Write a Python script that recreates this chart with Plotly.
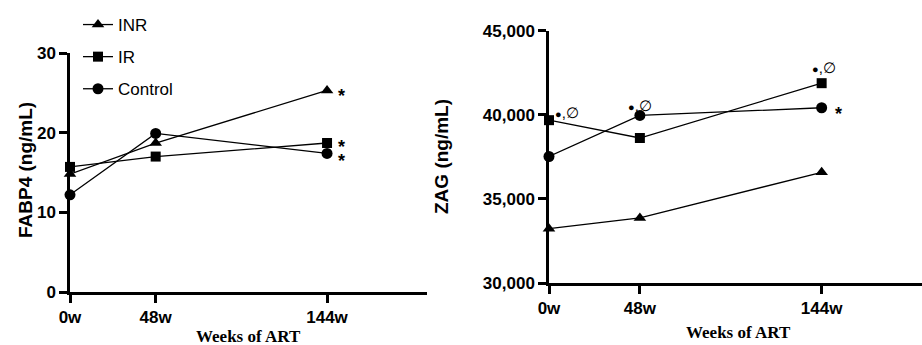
import plotly.graph_objects as go

weeks = [0, 48, 144]
week_labels = ["0w", "48w", "144w"]

fabp4_inr = [14.8, 18.7, 25.3]
fabp4_ir = [15.7, 17.0, 18.7]
fabp4_ctrl = [12.2, 19.9, 17.4]

zag_inr = [33230, 33870, 36580]
zag_ir = [39680, 38620, 41880]
zag_ctrl = [37520, 39960, 40420]

series_names = ["INR", "IR", "Control"]
symbols = ["triangle-up", "square", "circle"]
sizes = [11, 10, 11]

W, H = 922, 345
fig = go.Figure()

left_data = [fabp4_inr, fabp4_ir, fabp4_ctrl]
right_data = [zag_inr, zag_ir, zag_ctrl]

for i, name in enumerate(series_names):
    fig.add_trace(go.Scatter(
        x=weeks, y=left_data[i], mode="lines+markers", name=name,
        legendgroup=name, xaxis="x", yaxis="y",
        line=dict(color="black", width=1.3),
        marker=dict(symbol=symbols[i], size=sizes[i], color="black"),
        cliponaxis=False,
    ))
for i, name in enumerate(series_names):
    fig.add_trace(go.Scatter(
        x=weeks, y=right_data[i], mode="lines+markers", name=name,
        legendgroup=name, showlegend=False, xaxis="x2", yaxis="y2",
        line=dict(color="black", width=1.3),
        marker=dict(symbol=symbols[i], size=sizes[i], color="black"),
        cliponaxis=False,
    ))

tickfont = dict(family="Liberation Sans, Arial", size=17, color="black", weight="bold")
axis_common = dict(showgrid=False, zeroline=False, showline=True, linecolor="black",
                   linewidth=2.5, ticks="outside", ticklen=8, tickwidth=2.5,
                   tickcolor="black", tickfont=tickfont, automargin=False)

fig.update_layout(
    width=W, height=H,
    margin=dict(l=0, r=0, t=0, b=0, pad=0, autoexpand=False),
    paper_bgcolor="white", plot_bgcolor="white",
    showlegend=True,
    legend=dict(x=78 / W, y=1 - 7 / H, xanchor="left", yanchor="top",
                font=dict(family="Liberation Sans, Arial", size=17, color="black"),
                traceorder="grouped", tracegroupgap=7, bgcolor="rgba(0,0,0,0)"),
    xaxis=dict(domain=[70 / W, 427 / W], range=[0, 200], anchor="y",
               tickvals=weeks, ticktext=week_labels, **axis_common),
    yaxis=dict(domain=[1 - 292 / H, 1 - 53 / H], range=[0, 30], anchor="x",
               tickvals=[0, 10, 20, 30], **axis_common),
    xaxis2=dict(domain=[549 / W, 1.0], range=[0, 197], anchor="y2",
                tickvals=weeks, ticktext=week_labels, **axis_common),
    yaxis2=dict(domain=[1 - 283 / H, 1 - 30.7 / H], range=[30000, 45000], anchor="x2",
                tickvals=[30000, 35000, 40000, 45000], tickformat=",", **axis_common),
)

title_font = dict(family="Liberation Sans, Arial", size=19, color="black", weight="bold")
xtitle_font = dict(family="Liberation Serif, Times New Roman", size=17, color="black", weight="bold")

annotations = [
    dict(text="FABP4 (ng/mL)", x=25 / W, y=1 - 170 / H, xref="paper", yref="paper",
         textangle=-90, showarrow=False, font=title_font, xanchor="center", yanchor="middle"),
    dict(text="ZAG (ng/mL)", x=441 / W, y=1 - 157 / H, xref="paper", yref="paper",
         textangle=-90, showarrow=False, font=title_font, xanchor="center", yanchor="middle"),
    dict(text="Weeks of ART", x=248 / W, y=1 - 336 / H, xref="paper", yref="paper",
         showarrow=False, font=xtitle_font, xanchor="center", yanchor="middle"),
    dict(text="Weeks of ART", x=738 / W, y=1 - 332 / H, xref="paper", yref="paper",
         showarrow=False, font=xtitle_font, xanchor="center", yanchor="middle"),
]

star_font = dict(family="Liberation Sans, Arial", size=18, color="black", weight="bold")
for vals, dy in [(fabp4_inr, -1), (fabp4_ir, 1), (fabp4_ctrl, -3)]:
    annotations.append(dict(text="*", x=weeks[2], y=vals[2], xref="x", yref="y",
                            showarrow=False, font=star_font, xshift=14, yshift=-5 + dy))
annotations.append(dict(text="*", x=weeks[2], y=zag_ctrl[2], xref="x2", yref="y2",
                        showarrow=False, font=star_font, xshift=17, yshift=-6))

sym_font = dict(family="Liberation Sans, Arial", size=15, color="black")
sym_text = "<span style='font-size:11px'>●</span>,∅"
for xv, yv, xs, ys in [(weeks[0], zag_ir[0], 18, 8), (weeks[1], zag_ctrl[1], 0, 10),
                       (weeks[2], zag_ir[2], 2, 16)]:
    annotations.append(dict(text=sym_text, x=xv, y=yv, xref="x2", yref="y2",
                            showarrow=False, font=sym_font, xshift=xs, yshift=ys))

fig.update_layout(annotations=annotations)
fig.write_html("out.html")
